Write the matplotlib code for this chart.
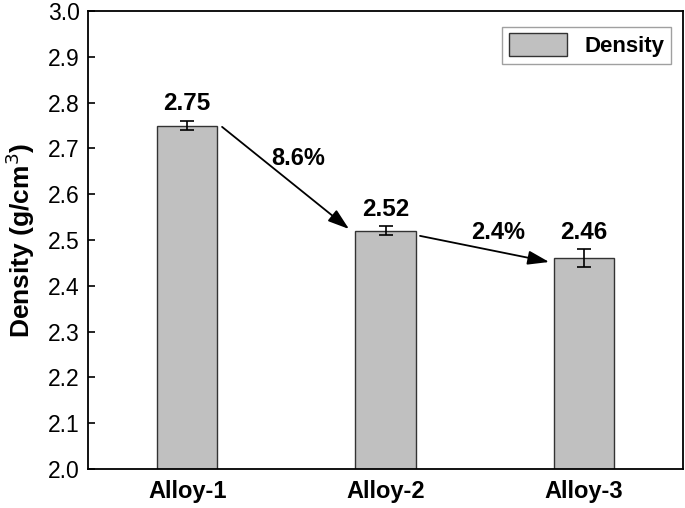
import matplotlib.pyplot as plt
from matplotlib.patches import FancyArrowPatch

plt.rcParams['font.family'] = ['Liberation Sans', 'DejaVu Sans']

alloys = ["Alloy-1", "Alloy-2", "Alloy-3"]
density = [2.75, 2.52, 2.46]
density_err = [0.01, 0.01, 0.02]
changes = ["8.6%", "2.4%"]

fig = plt.figure(figsize=(6.85, 5.08), dpi=100)
ax = fig.add_axes([88 / 685, (508 - 469) / 508, 595 / 685, 458 / 508])

x = [1, 2, 3]
ax.bar(x, density, width=0.305, color="#c0c0c0", edgecolor="#333333",
       linewidth=1.0, label="Density", zorder=2)
ax.errorbar(x, density, yerr=density_err, fmt="none", ecolor="black",
            elinewidth=1.2, capsize=5, capthick=1.2, zorder=3)

for xi, d, e in zip(x, density, density_err):
    ax.text(xi, d + e + 0.012, f"{d:.2f}", ha="center", va="bottom",
            fontsize=17.5, fontweight="bold")

# arrows between bars (small offsets so they sit like the original)
start_dx, end_dx = [0.176, 0.174], [0.184, 0.175]
start_dy, end_dy = [-0.003, -0.011], [0.004, -0.008]
for i in range(2):
    arr = FancyArrowPatch((x[i] + start_dx[i], density[i] + start_dy[i]),
                          (x[i + 1] - end_dx[i], density[i + 1] + end_dy[i]),
                          arrowstyle="-|>,head_length=1.0,head_width=0.33",
                          mutation_scale=13, shrinkA=0, shrinkB=0,
                          color="black", linewidth=1.3, zorder=4)
    ax.add_patch(arr)

ax.text(1.56, 2.678, changes[0], ha="center", va="center",
        fontsize=17, fontweight="bold")
ax.text(2.57, 2.517, changes[1], ha="center", va="center",
        fontsize=17, fontweight="bold")

ax.set_xlim(0.5, 3.5)
ax.set_ylim(2.0, 3.0)
ax.set_yticks([2.0 + 0.1 * i for i in range(11)])
ax.set_yticklabels([f"{2.0 + 0.1 * i:.1f}" for i in range(11)], fontsize=16.5)
ax.set_xticks(x)
ax.set_xticklabels(alloys, fontsize=17, fontweight="bold")
ax.tick_params(axis="both", direction="in", length=5, width=1.2)
ax.tick_params(axis="x", pad=8)
ax.tick_params(axis="y", pad=6)
ax.set_ylabel("Density (g/cm$^3$)", fontsize=19, fontweight="bold", labelpad=8)
for s in ax.spines.values():
    s.set_linewidth(1.3)

leg = ax.legend(loc="upper right", bbox_to_anchor=(0.98, 0.966),
                prop={"weight": "bold", "size": 16}, fancybox=False,
                handlelength=2.6, handleheight=1.2, borderpad=0.3,
                handletextpad=0.8, borderaxespad=0.0)
leg.get_frame().set_edgecolor("#888888")
leg.get_frame().set_linewidth(1.0)

fig.savefig("out.png", dpi=100)
